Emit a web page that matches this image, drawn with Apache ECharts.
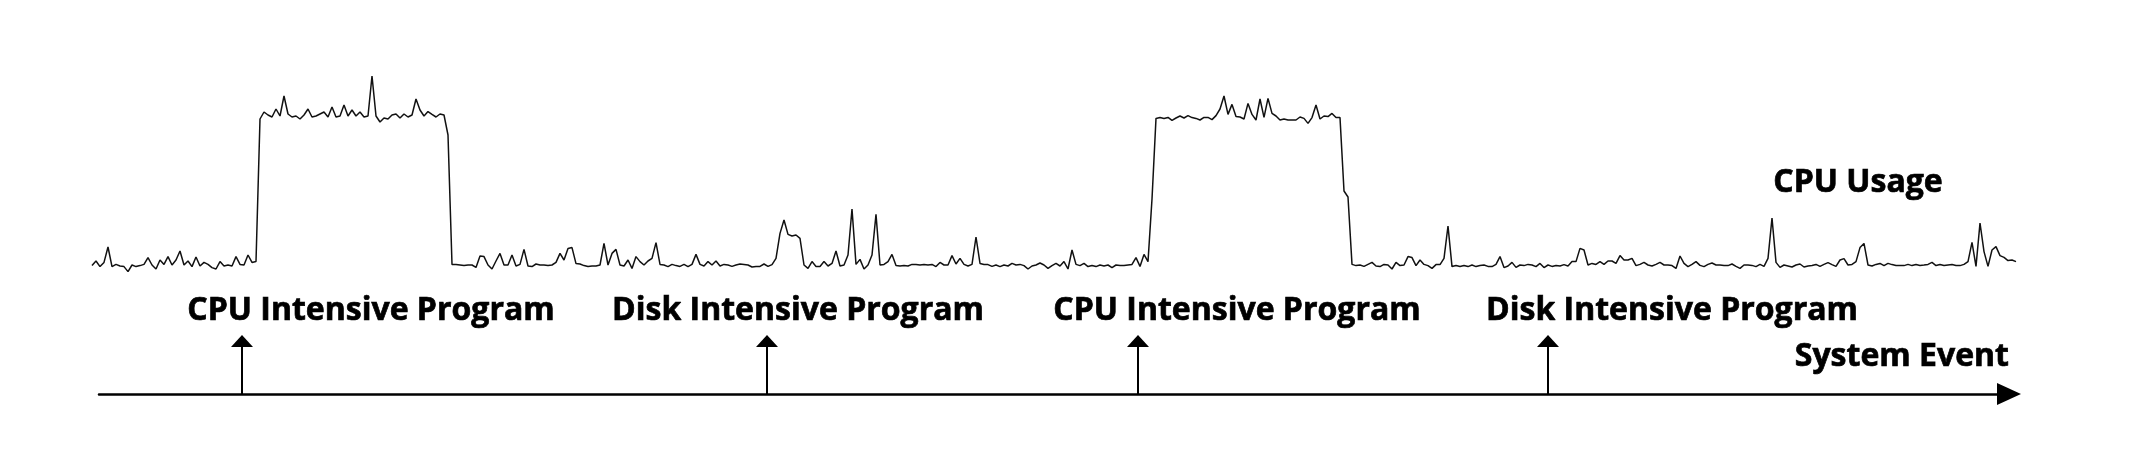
<!DOCTYPE html>
<html>
<head>
<meta charset="utf-8">
<script src="https://cdn.jsdelivr.net/npm/echarts@6/dist/echarts.min.js"></script>
<style>
html,body{margin:0;padding:0;background:#fff;}
#chart{width:2130px;height:472px;}
</style>
</head>
<body>
<div id="chart"></div>
<script>
var idle1 = [4.7,7,4.2,6.3,14,4.2,5.3,4.5,4.2,1.7,
  5,4.2,4.7,5.3,8.7,5,3,7.5,5.3,9.2,
  5,7.5,12,5,7,4.2,9,4.5,6.3,5.3,
  3.7,3,6.7,4.5,5,4.5,9.2,5.3,5,10,
  6.3,6.7];
var cpuRun1 = [78,81.5,80,79,83,79.5,89.5,80.5,79,
  79.5,78,80,83,79,79.5,80.5,81.5,79,84,
  79,79.5,85,79.5,82.5,79.5,81.5,79,79.5,99.5,
  79.5,76.5,78.5,78,80,80.5,78.5,80.5,79,80,
  88,82.5,79.5,81.7,80.3,79,80.5,80,70];
var idle2 = [5.3,5.3,5,4.7,5,5,3.8,9.5,9.2,5,
  3,7,10.8,5,5,10,4.5,5.3,12.8,4.5,
  4.2,5.5,5,5,4.7,5,6.3,10.8,7.5,13.3,
  13.7,5.7,5.5,4.7,4.2,4.5,4.5,5,15.8,5,
  10.8,12.8,5,4.5,7.5,3.3,9.2,6.7,5,7,
  8.3,16.2,5.3,5,4.2,5.3,4.7,4.3,5.3,4.2,
  5.3,10.3,5.3,4.5,6.7,5,7,4.5,5.3,5,
  4.3,5];
var diskRun1 = [5.5,5.3,5,4,4.3,4.3,5.5,4.3,
  5.2,8.3,20.8,27.5,20.3,19.5,20,18.3,5,3.3,
  6.7,4.3,4.3,6.7,4.5,5.8,12,4.5,5,10,
  33,5.3,7.8,3,5,10,30.3,5,5.3,6.7,
  10.3,4.7,4.5,4.8,4.5,5.3,5.2,5,5.3,5,
  5.3,4.2,6.3,5,5,9.7,5.5,8.3,5.3,4.5,
  5.3,19,5.8,5.3,5.2,4.3,5,4.2,5,4.5,
  5.8,5,5.3,4.7,3,4.5,5,6,5,3.3,
  4.7,5.8,4.5,
  6.7,3,12.5,5.3,4.7,5.8,4.2,4.7,4.2,5,
  4.5,5,3.7,5,4.7,4.7,5,5.3,8.7,4.3,
  10.3,6.7,38];
var cpuRun2 = [78.3,
  78.7,78.3,78.8,77.3,78.5,79.5,78.5,79.7,78.7,78.3,
  77.5,78.8,78.8,77.7,79.7,83,89.5,80.3,85.3,79.2,
  79,78,85.8,80.3,77.5,88,78.8,88.3,80.8,79.5,
  77.5,78,77.5,77.5,77.5,79,78.3,75.8,78.7,85,
  78,79.5,79.2,80.8,78.7,78.7,
  42,39];
var idle3 = [5.3,4.7,5,4.3,5.3,6.3,4.5,4.2,5.3,
  5,3,6.3,4.7,5,9.2,8.7,4.7,7.5,5.3,
  4.7,3.3,5.2,5.2,8.3,24.5,4.2,4.7,4.2,4.7];
var diskRun2 = [4.2,5,4.2,4.7,5,4.3,4.2,5.3,9.2,3.7,
  4.5,6.3,3.8,5,4.7,5.3,5,4.2,5.8,3.7,
  5,4.3,4.8,4.5,5.2,4.5,6.7,6.7,13.3,12.5,
  5,5.8,5.3,6.7,5.3,7,7,5.8,9.7,7.5,
  7.5,8.3,4.7,5.3,6.3,5,4.5,5.3,6.3,5,
  5,4.7,3.3,9.5,5.8,4.2,5.3,6.7,4.8,4.2,
  5.3,6,
  5,5,4.7,4.7,5.5,4.3,3.3,5,5,4.8,
  4.2,5.3,4.3,8.3,28.5,6.3,3.8,5,4.5,4,
  5,5.5,4,4.5,4.8,5.3,4.3,5.3,6.2,5.2,
  4.3,7.5,8.2,5,5.3,6.7,13.7,15.8,5,4.5,
  5.3,5.8,4.7,5.8,5.2,4.7,4.7,4.7,5.3,4.7,
  5.2,4.8,5,5.3,6.3,4.7,5.2,4.7,5,5.2,
  4.7,4.7,5.3,6.7,16.3,4.3,26,11.7,4.3,12.5,
  14.2,9.7,8.8,7.2,7.5,6.7];

var cpuUsage = [].concat(idle1, cpuRun1, idle2, diskRun1, cpuRun2, idle3, diskRun2);

// System events: time (sample index) and name
var eventTimes = [37.5, 168.75, 261.5, 364];
var eventNames = ['CPU Intensive Program', 'Disk Intensive Program', 'CPU Intensive Program', 'Disk Intensive Program'];
var seriesTitle = 'CPU Usage';
var axisTitle = 'System Event';

// layout (pixel positions of the annotation texts)
var eventLabelX = [371, 798, 1237, 1672];
var eventLabelY = 311;
var FONT = '"Open Sans", "Liberation Sans", sans-serif';
var FS = 32;

var N = cpuUsage.length;
var chart = echarts.init(document.getElementById('chart'), null, {renderer: 'canvas'});

function textStyle(txt, align) {
  return {text: txt, font: 'bold ' + FS + 'px ' + FONT, fill: '#000', stroke: '#000', lineWidth: 0.7,
    align: align, verticalAlign: 'middle'};
}
var graphics = eventNames.map(function (name, k) {
  return {type: 'text', x: eventLabelX[k], y: eventLabelY, style: textStyle(name, 'center')};
});
graphics.push({type: 'text', x: 1858, y: 183, style: textStyle(seriesTitle, 'center')});
graphics.push({type: 'text', x: 2009, y: 357, style: textStyle(axisTitle, 'right')});

chart.setOption({
  animation: false,
  backgroundColor: '#fff',
  grid: [
    {left: 92, right: 114, top: 75, bottom: 197, outerBoundsMode: 'none'},
    {left: 99, right: 121, top: 335, bottom: 78, outerBoundsMode: 'none'}
  ],
  xAxis: [
    {type: 'value', gridIndex: 0, min: 0, max: N - 1, show: false},
    {type: 'value', gridIndex: 1, min: 1.75, max: 479.25,
      axisLine: {show: true, onZero: false, symbol: ['none', 'triangle'], symbolSize: [22, 24],
        lineStyle: {color: '#000', width: 2.5}},
      axisTick: {show: false}, axisLabel: {show: false}, splitLine: {show: false}}
  ],
  yAxis: [
    {type: 'value', gridIndex: 0, min: 0, max: 100, show: false},
    {type: 'value', gridIndex: 1, min: 0, max: 1, show: false}
  ],
  graphic: graphics,
  series: [
    {
      name: seriesTitle, type: 'line', xAxisIndex: 0, yAxisIndex: 0,
      data: cpuUsage.map(function (v, i) { return [i, v]; }),
      showSymbol: false, smooth: false,
      lineStyle: {color: '#111', width: 1.5}
    },
    {
      name: axisTitle, type: 'custom', xAxisIndex: 1, yAxisIndex: 1,
      data: eventTimes.map(function (t) { return [t]; }),
      renderItem: function (params, api) {
        var base = api.coord([api.value(0), 0]);
        var tip = api.coord([api.value(0), 1]);
        var hh = 12, hw = 22;
        return {type: 'group', children: [
          {type: 'line', shape: {x1: base[0], y1: base[1], x2: tip[0], y2: tip[1] + hh},
            style: {stroke: '#000', lineWidth: 2}},
          {type: 'polygon', shape: {points: [[tip[0], tip[1]], [tip[0] - hw / 2, tip[1] + hh], [tip[0] + hw / 2, tip[1] + hh]]},
            style: {fill: '#000'}}
        ]};
      }
    }
  ]
});
</script>
</body>
</html>
